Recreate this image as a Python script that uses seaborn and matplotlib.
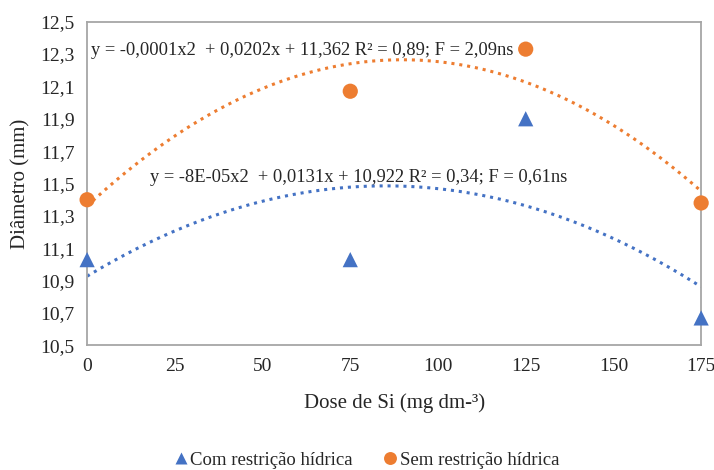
import numpy as np
import pandas as pd
import matplotlib
matplotlib.use("Agg")
import matplotlib.pyplot as plt
from matplotlib.ticker import MultipleLocator, FixedLocator, FuncFormatter
import seaborn as sns

# dados
doses = [0, 75, 125, 175]
com_restricao = [11.03, 11.03, 11.90, 10.67]
sem_restricao = [11.40, 12.07, 12.33, 11.38]
series_names = ["Com restrição hídrica", "Sem restrição hídrica"]
y_ticks = [10.5, 10.7, 10.9, 11.1, 11.3, 11.5, 11.7, 11.9, 12.1, 12.3, 12.5]
eq_com = "y = -8E-05x2  + 0,0131x + 10,922 R² = 0,34; F = 0,61ns"
eq_sem = "y = -0,0001x2  + 0,0202x + 11,362 R² = 0,89; F = 2,09ns"

blue = "#4472C4"
orange = "#ED7D31"

sns.set_style("white")
plt.rcParams["font.family"] = ["Liberation Serif", "DejaVu Serif"]

df = pd.DataFrame({
    "dose": doses * 2,
    "diam": com_restricao + sem_restricao,
    "serie": [series_names[0]] * 4 + [series_names[1]] * 4,
})

fig = plt.figure(figsize=(7.14, 4.70), dpi=100)
ax = fig.add_axes([0.122, 0.265, 0.860, 0.689])

# linhas de tendencia polinomial (ordem 2), como no Excel
xs = np.linspace(0, 175, 200)
for ys, col in [(com_restricao, blue), (sem_restricao, orange)]:
    coef = np.polyfit(doses, ys, 2)
    sns.lineplot(x=xs, y=np.polyval(coef, xs), ax=ax, color=col,
                 linestyle=(0, (1, 1.6)), linewidth=2.2, legend=False)

sns.scatterplot(data=df, x="dose", y="diam", hue="serie", style="serie",
                palette=[blue, orange], markers=["^", "o"], s=120,
                edgecolor="none", ax=ax, clip_on=False, zorder=5)

ax.set_xlim(0, 175)
ax.set_ylim(10.5, 12.5)
ax.xaxis.set_major_locator(MultipleLocator(25))
ax.yaxis.set_major_locator(FixedLocator(y_ticks))
ax.yaxis.set_major_formatter(FuncFormatter(lambda v, p: f"{v:.1f}".replace(".", ",")))
ax.tick_params(axis="both", labelsize=14, length=0, pad=9)
for s in ax.spines.values():
    s.set_color("#A6A6A6")
    s.set_linewidth(1.3)

ax.set_xlabel("Dose de Si (mg dm-³)", fontsize=15, labelpad=13)
ax.set_ylabel("Diâmetro (mm)", fontsize=15, labelpad=7)

ax.text(1, 12.32, eq_sem, fontsize=13.3, va="center", ha="left")
ax.text(18, 11.54, eq_com, fontsize=13.3, va="center", ha="left")

handles, labels = ax.get_legend_handles_labels()
ax.legend(handles, labels, loc="upper center", bbox_to_anchor=(0.45, -0.275),
          ncol=2, frameon=False, fontsize=13.5, handletextpad=-0.2,
          columnspacing=1.3, markerscale=0.85, handlelength=1.4)

fig.savefig("out.png", dpi=100)
